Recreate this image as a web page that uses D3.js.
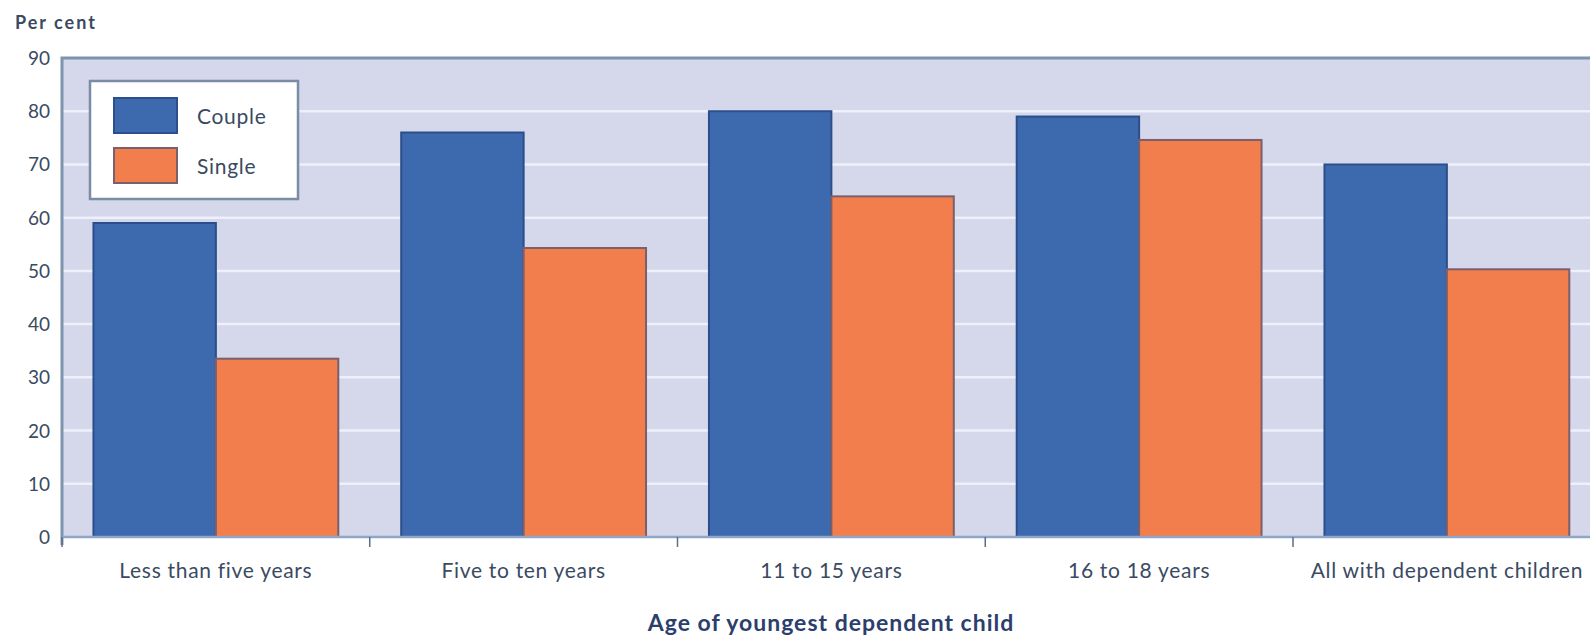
<!DOCTYPE html>
<html>
<head>
<meta charset="utf-8">
<script src="https://cdn.jsdelivr.net/npm/d3@7"></script>
<style>
  body { margin: 0; background: #ffffff; }
</style>
</head>
<body>
<div id="container"></div>
<script>
let w = 1590;
let h = 640;

// data
let categories = ["Less than five years", "Five to ten years", "11 to 15 years", "16 to 18 years", "All with dependent children"];
let seriesNames = ["Couple", "Single"];
let coupleValues = [59, 76, 80, 79, 70];
let singleValues = [33.5, 54.3, 64, 74.6, 50.3];
let yTicks = [0, 10, 20, 30, 40, 50, 60, 70, 80, 90];

let colors = { Couple: "#3D69AE", Single: "#F27E4E" };
let strokes = { Couple: "#2B4F8C", Single: "#7A5F6C" };
let textColor = "#3A4A62";
let font = "font-family: Lato, 'Open Sans', sans-serif;";

let plotLeft = 62, plotTop = 58, plotBottom = 537;
let step = 307.75;

let viz = d3.select("#container")
  .append("svg")
    .attr("width", w)
    .attr("height", h)
    .style("background-color", "#ffffff");

let x = d3.scaleBand()
  .domain(categories)
  .range([plotLeft, plotLeft + step * categories.length])
  .padding(0);

let xInner = d3.scaleBand()
  .domain(seriesNames)
  .range([0, x.bandwidth()])
  .paddingInner(0)
  .paddingOuter(0.257);

let y = d3.scaleLinear()
  .domain([0, 90])
  .range([plotBottom, plotTop]);

// plot background
viz.append("rect")
  .attr("x", plotLeft)
  .attr("y", plotTop)
  .attr("width", w - plotLeft + 20)
  .attr("height", plotBottom - plotTop)
  .attr("fill", "#D5D7EA");

// gridlines
viz.append("g")
  .selectAll("line")
  .data(yTicks.filter(d => d > 0 && d < 90))
  .join("line")
    .attr("x1", plotLeft)
    .attr("x2", w)
    .attr("y1", d => y(d))
    .attr("y2", d => y(d))
    .attr("stroke", "#EEF0FB")
    .attr("stroke-width", 2.5);

// bars
let rows = categories.map((c, i) => ({ cat: c, Couple: coupleValues[i], Single: singleValues[i] }));

viz.append("g")
  .selectAll("g")
  .data(rows)
  .join("g")
    .attr("transform", d => "translate(" + x(d.cat) + ",0)")
  .selectAll("rect")
  .data(d => seriesNames.map(s => ({ key: s, value: d[s] })))
  .join("rect")
    .attr("x", d => xInner(d.key))
    .attr("y", d => y(d.value))
    .attr("width", xInner.bandwidth())
    .attr("height", d => plotBottom - y(d.value))
    .attr("fill", d => colors[d.key])
    .attr("stroke", d => strokes[d.key])
    .attr("stroke-width", 2);

// plot border top & left
viz.append("path")
  .attr("d", "M" + plotLeft + "," + (plotBottom + 8) + " L" + plotLeft + "," + plotTop + " L" + w + "," + plotTop)
  .attr("fill", "none")
  .attr("stroke", "#7E93AE")
  .attr("stroke-width", 3);

// x axis
let xAxis = viz.append("g")
  .attr("transform", "translate(0," + plotBottom + ")");

xAxis.append("line")
  .attr("x1", plotLeft)
  .attr("x2", w)
  .attr("stroke", "#8FA6C6")
  .attr("stroke-width", 2.5);

xAxis.selectAll(".tick")
  .data(categories)
  .join("line")
    .attr("class", "tick")
    .attr("x1", d => x(d))
    .attr("x2", d => x(d))
    .attr("y1", 0)
    .attr("y2", 10)
    .attr("stroke", "#5D6E88")
    .attr("stroke-width", 1.5);

xAxis.selectAll("text")
  .data(categories)
  .join("text")
    .attr("x", d => x(d) + x.bandwidth() / 2)
    .attr("y", 41)
    .attr("text-anchor", "middle")
    .attr("style", "font-size:21px; letter-spacing:0.7px; " + font)
    .attr("fill", textColor)
    .text(d => d);

// y axis labels
viz.append("g")
  .selectAll("text")
  .data(yTicks)
  .join("text")
    .attr("x", 50)
    .attr("y", d => y(d) + 7)
    .attr("text-anchor", "end")
    .attr("style", "font-size:19px; " + font)
    .attr("fill", textColor)
    .text(d => d);

viz.append("text")
  .attr("x", 15)
  .attr("y", 29)
  .attr("style", "font-size:18px; font-weight:bold; letter-spacing:2px; " + font)
  .attr("fill", textColor)
  .text("Per cent");

// axis title
viz.append("text")
  .attr("x", 831)
  .attr("y", 631)
  .attr("text-anchor", "middle")
  .attr("style", "font-size:23px; font-weight:bold; letter-spacing:1px; " + font)
  .attr("fill", "#2B3E6C")
  .text("Age of youngest dependent child");

// legend
let legend = viz.append("g");

legend.append("rect")
  .attr("x", 90)
  .attr("y", 81)
  .attr("width", 208)
  .attr("height", 118)
  .attr("fill", "#ffffff")
  .attr("stroke", "#7A8CA6")
  .attr("stroke-width", 2.5);

legend.selectAll(".sw")
  .data(seriesNames)
  .join("rect")
    .attr("class", "sw")
    .attr("x", 114)
    .attr("y", (d, i) => 98 + i * 50)
    .attr("width", 63)
    .attr("height", 35)
    .attr("fill", d => colors[d])
    .attr("stroke", d => strokes[d])
    .attr("stroke-width", 2);

legend.selectAll(".lab")
  .data(seriesNames)
  .join("text")
    .attr("class", "lab")
    .attr("x", 197)
    .attr("y", (d, i) => 124 + i * 50)
    .attr("style", "font-size:21px; letter-spacing:0.7px; " + font)
    .attr("fill", textColor)
    .text(d => d);
</script>
</body>
</html>
